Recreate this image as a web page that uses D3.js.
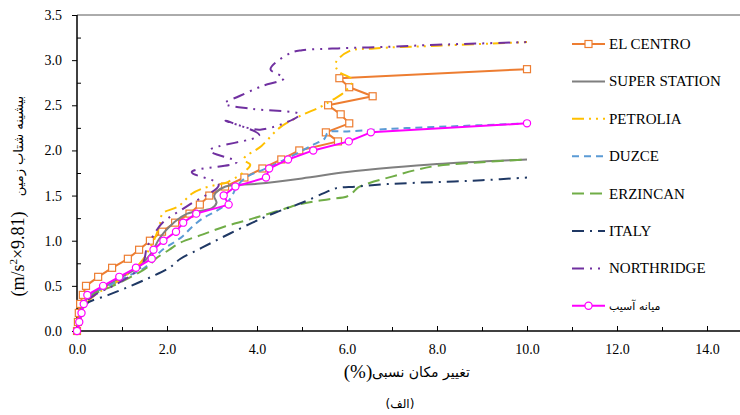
<!DOCTYPE html>
<html>
<head>
<meta charset="utf-8">
<script src="https://cdn.jsdelivr.net/npm/d3@7"></script>
<style>
  body { margin: 0; background: #fff; }
  svg { display: block; }
</style>
</head>
<body>
<div class="canvas"></div>
<script>
// data: [drift %, PGA (g)]
const elCentro = [[0,0],[0.02,0.1],[0.04,0.2],[0.07,0.3],[0.13,0.4],[0.2,0.5],[0.47,0.6],[0.78,0.7],[1.13,0.8],[1.38,0.9],[1.62,1.0],[1.89,1.1],[2.18,1.2],[2.5,1.3],[2.73,1.4],[2.94,1.5],[3.29,1.6],[3.72,1.7],[4.12,1.8],[4.54,1.9],[4.94,2.0],[5.8,2.1],[5.53,2.2],[6.05,2.3],[5.86,2.4],[5.58,2.5],[6.57,2.6],[6.05,2.7],[5.83,2.8],[10.0,2.9]];
const superStation = [[0,0],[0.05,0.1],[0.1,0.2],[0.15,0.3],[0.3,0.4],[0.65,0.5],[1.0,0.6],[1.35,0.7],[1.55,0.8],[1.7,0.9],[1.8,1.0],[1.95,1.1],[2.15,1.2],[2.45,1.3],[3.0,1.36],[3.1,1.42],[3.05,1.5],[3.3,1.6],[4.0,1.63],[5.0,1.69],[6.0,1.76],[7.0,1.81],[8.0,1.85],[10.0,1.9]];
const petrolia = [[0,0],[0.05,0.1],[0.1,0.2],[0.2,0.3],[0.4,0.4],[0.9,0.55],[1.4,0.75],[1.6,0.9],[1.75,1.05],[1.85,1.2],[1.9,1.3],[2.25,1.38],[2.55,1.52],[2.8,1.58],[3.1,1.62],[3.35,1.65],[3.85,1.84],[3.7,1.9],[4.1,2.05],[4.5,2.25],[4.95,2.38],[5.4,2.48],[5.65,2.55],[5.95,2.65],[6.12,2.78],[5.8,2.88],[5.75,2.97],[6.05,3.1],[6.6,3.13],[8.0,3.16],[10.0,3.2]];
const duzce = [[0,0],[0.05,0.1],[0.1,0.2],[0.15,0.3],[0.3,0.4],[0.7,0.5],[1.1,0.6],[1.5,0.7],[1.7,0.8],[1.9,0.9],[2.15,0.98],[2.35,1.05],[2.55,1.15],[2.8,1.25],[3.1,1.33],[3.3,1.4],[3.45,1.5],[3.55,1.6],[3.75,1.7],[4.2,1.8],[4.7,1.92],[5.2,2.05],[5.5,2.13],[5.58,2.2],[6.0,2.21],[7.0,2.24],[8.0,2.26],[10.0,2.3]];
const erzincan = [[0,0],[0.05,0.1],[0.1,0.2],[0.15,0.3],[0.35,0.4],[0.8,0.5],[1.2,0.6],[1.55,0.7],[1.75,0.8],[2.05,0.9],[2.3,0.98],[2.8,1.07],[3.3,1.16],[3.8,1.23],[4.4,1.32],[5.0,1.41],[5.6,1.46],[6.0,1.49],[6.12,1.53],[6.25,1.59],[6.5,1.64],[7.0,1.71],[7.5,1.78],[8.0,1.83],[9.0,1.87],[10.0,1.9]];
const italy = [[0,0],[0.05,0.1],[0.1,0.2],[0.2,0.3],[0.7,0.4],[1.2,0.5],[1.65,0.6],[2.05,0.7],[2.3,0.8],[2.65,0.89],[3.0,0.98],[3.4,1.08],[3.9,1.2],[4.4,1.31],[5.0,1.42],[5.5,1.53],[5.75,1.58],[6.2,1.6],[7.0,1.63],[8.0,1.65],[9.0,1.67],[10.0,1.7]];
const northridge = [[0,0],[0.04,0.1],[0.08,0.2],[0.15,0.3],[0.4,0.4],[0.8,0.5],[1.15,0.6],[1.4,0.7],[1.5,0.8],[1.55,0.92],[1.75,1.1],[1.9,1.2],[2.5,1.4],[3.15,1.62],[2.55,1.76],[3.55,1.87],[2.95,2.0],[4.05,2.17],[3.3,2.33],[4.07,2.23],[4.95,2.4],[3.9,2.46],[3.28,2.52],[3.6,2.6],[4.1,2.71],[4.6,2.8],[4.3,2.9],[4.75,3.08],[5.0,3.11],[5.8,3.13],[7.0,3.15],[8.0,3.17],[10.0,3.2]];
const meanDamage = [[0,0],[0.05,0.1],[0.1,0.2],[0.15,0.3],[0.23,0.4],[0.58,0.5],[0.94,0.6],[1.31,0.7],[1.66,0.8],[1.7,0.9],[1.92,1.0],[2.2,1.1],[2.36,1.2],[2.65,1.3],[3.37,1.4],[3.26,1.5],[3.52,1.6],[4.2,1.7],[4.27,1.8],[4.69,1.9],[5.25,2.0],[6.04,2.1],[6.53,2.2],[10.0,2.3]];

const seriesNames = ['EL CENTRO','SUPER STATION','PETROLIA','DUZCE','ERZINCAN','ITALY','NORTHRIDGE','میانه آسیب'];
const xTicks = [0,2,4,6,8,10,12,14];
const xMinor = [1,3,5,7,9,11,13,15];
const yTicks = [0,0.5,1,1.5,2,2.5,3,3.5];
const yMinor = [0.25,0.75,1.25,1.75,2.25,2.75,3.25];

const serif = "'Liberation Serif', 'Times New Roman', Times, serif";
const farsi = "'DejaVu Sans', 'Noto Sans', sans-serif";

const series = [
  {name: seriesNames[0], data: elCentro,     color: '#ED7D31', dash: null,              marker: 'square', smooth: false},
  {name: seriesNames[1], data: superStation, color: '#7F7F7F', dash: null,              marker: null,     smooth: true},
  {name: seriesNames[2], data: petrolia,     color: '#FFC000', dash: '12,5,2,5,2,5',    marker: null,     smooth: true},
  {name: seriesNames[3], data: duzce,        color: '#5B9BD5', dash: '7,5',             marker: null,     smooth: true},
  {name: seriesNames[4], data: erzincan,     color: '#70AD47', dash: '12,6',            marker: null,     smooth: true},
  {name: seriesNames[5], data: italy,        color: '#1F3864', dash: '12,6,2,6',        marker: null,     smooth: true},
  {name: seriesNames[6], data: northridge,   color: '#7030A0', dash: '12,6,2,6,2,6',    marker: null,     smooth: true},
  {name: seriesNames[7], data: meanDamage,   color: '#FF00FF', dash: null,              marker: 'circle', smooth: false}
];

const svg = d3.select('.canvas').append('svg')
  .attr('width', 740)
  .attr('height', 415);

const x = d3.scaleLinear().domain([0, 14]).range([77, 707]);
const y = d3.scaleLinear().domain([0, 3.5]).range([331, 15]);

// frame line on top
svg.append('line')
  .attr('x1', x(0)).attr('x2', 740)
  .attr('y1', y(3.5)).attr('y2', y(3.5))
  .attr('stroke', '#595959').attr('stroke-width', 1);

// x axis
svg.append('g').attr('transform', `translate(0,${y(0)})`)
  .call(d3.axisBottom(x).tickValues(xTicks).tickFormat(d3.format('.1f')).tickSize(-5).tickPadding(13));
svg.append('g').attr('transform', `translate(0,${y(0)})`)
  .call(d3.axisBottom(x).tickValues(xMinor).tickFormat('').tickSize(-4));

// y axis
svg.append('g').attr('transform', `translate(${x(0)},0)`)
  .call(d3.axisLeft(y).tickValues(yTicks).tickFormat(d3.format('.1f')).tickSize(5).tickPadding(10));
svg.append('g').attr('transform', `translate(${x(0)},0)`)
  .call(d3.axisLeft(y).tickValues(yMinor).tickFormat('').tickSize(-4));

svg.selectAll('.domain').remove();
svg.selectAll('g').attr('font-family', serif);
svg.selectAll('.tick line').attr('stroke', '#000').attr('stroke-width', 1);
svg.selectAll('.tick text').attr('font-size', 14).attr('fill', '#000');

svg.append('line')
  .attr('x1', x(0)).attr('x2', 740).attr('y1', y(0)).attr('y2', y(0))
  .attr('stroke', '#000').attr('stroke-width', 1.5);
svg.append('line')
  .attr('x1', x(0)).attr('x2', x(0)).attr('y1', y(0)).attr('y2', y(3.5))
  .attr('stroke', '#000').attr('stroke-width', 1.5);

// lines
const plot = svg.append('g');
series.forEach(s => {
  const line = d3.line()
    .x(d => x(d[0])).y(d => y(d[1]))
    .curve(s.smooth ? d3.curveCatmullRom.alpha(0.5) : d3.curveLinear);
  plot.append('path')
    .datum(s.data)
    .attr('d', line)
    .attr('fill', 'none')
    .attr('stroke', s.color)
    .attr('stroke-width', 2)
    .attr('stroke-dasharray', s.dash)
    .attr('stroke-linejoin', 'round');
  if (s.marker === 'square') {
    plot.selectAll(null).data(s.data).enter().append('rect')
      .attr('x', d => x(d[0]) - 3.5).attr('y', d => y(d[1]) - 3.5)
      .attr('width', 7).attr('height', 7)
      .attr('fill', '#fff').attr('stroke', s.color).attr('stroke-width', 1.2);
  } else if (s.marker === 'circle') {
    plot.selectAll(null).data(s.data).enter().append('circle')
      .attr('cx', d => x(d[0])).attr('cy', d => y(d[1])).attr('r', 3.6)
      .attr('fill', '#fff').attr('stroke', s.color).attr('stroke-width', 1.2);
  }
});

// legend
const legend = svg.append('g').attr('transform', 'translate(572,44)');
series.forEach((s, i) => {
  const g = legend.append('g').attr('transform', `translate(0,${i * 37.4})`);
  g.append('line').attr('x1', 0).attr('x2', 33).attr('y1', 0).attr('y2', 0)
    .attr('stroke', s.color).attr('stroke-width', 2)
    .attr('stroke-dasharray', s.dash);
  if (s.marker === 'square') {
    g.append('rect').attr('x', 13).attr('y', -3.5).attr('width', 7).attr('height', 7)
      .attr('fill', '#fff').attr('stroke', s.color).attr('stroke-width', 1.2);
  } else if (s.marker === 'circle') {
    g.append('circle').attr('cx', 16.5).attr('cy', 0).attr('r', 3.6)
      .attr('fill', '#fff').attr('stroke', s.color).attr('stroke-width', 1.2);
  }
  const t = g.append('text').attr('x', 37).attr('y', 5).attr('fill', '#000')
    .text(s.name);
  if (i === series.length - 1) {
    t.attr('font-family', farsi).attr('font-size', 11).attr('y', 4);
  } else {
    t.attr('font-family', serif).attr('font-size', 15);
  }
});

// axis titles
const yTitle = svg.append('text')
  .attr('transform', 'translate(24,254) rotate(-90)')
  .attr('font-family', serif)
  .attr('text-anchor', 'middle').attr('font-size', 18).attr('fill', '#000');
yTitle.append('tspan').text('(m/s');
yTitle.append('tspan').attr('font-size', 11).attr('dy', -7).text('2');
yTitle.append('tspan').attr('dy', 7).text('×9.81)');

svg.append('text')
  .attr('font-family', farsi)
  .attr('transform', 'translate(23,146) rotate(-90)')
  .attr('text-anchor', 'middle').attr('font-size', 13).attr('fill', '#000')
  .text('بیشینه شتاب زمین');

svg.append('text')
  .attr('font-family', serif)
  .attr('x', 358).attr('y', 378)
  .attr('text-anchor', 'middle').attr('font-size', 19).attr('fill', '#000')
  .text('(%)');
svg.append('text')
  .attr('font-family', farsi)
  .attr('x', 421).attr('y', 377)
  .attr('text-anchor', 'middle').attr('font-size', 14).attr('fill', '#000')
  .text('تغییر مکان نسبی');

svg.append('text')
  .attr('font-family', farsi)
  .attr('x', 400).attr('y', 408)
  .attr('text-anchor', 'middle').attr('font-size', 12).attr('fill', '#000')
  .text('(الف)');
</script>
</body>
</html>
